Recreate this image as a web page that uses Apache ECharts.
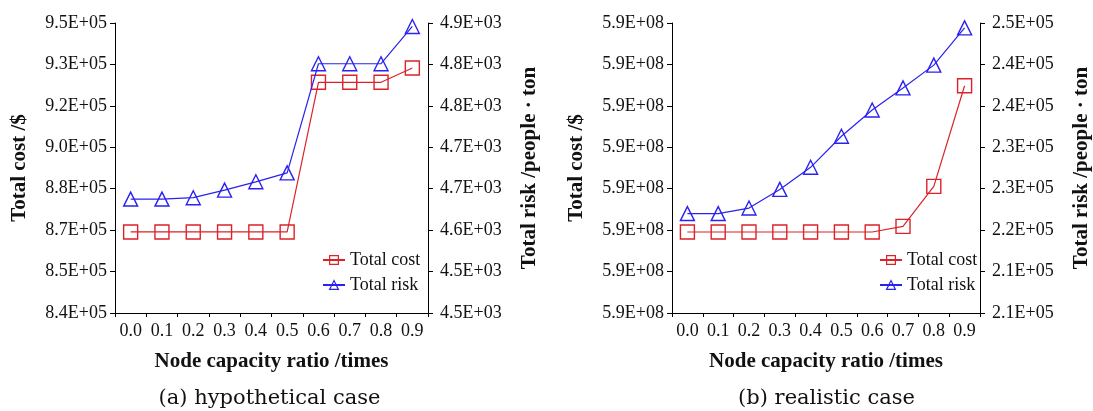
<!DOCTYPE html>
<html>
<head>
<meta charset="utf-8">
<script src="https://cdn.jsdelivr.net/npm/echarts@6/dist/echarts.min.js"></script>
<style>
html,body{margin:0;padding:0;background:#fff;}
#c{width:1093px;height:411px;}
</style>
</head>
<body>
<div id="c"></div>
<script>
// ---- data ----
var ratios = ['0.0','0.1','0.2','0.3','0.4','0.5','0.6','0.7','0.8','0.9'];

var costA = [867300, 867300, 867300, 867300, 867300, 867300, 925100, 925100, 925100, 930600];
var riskA = [4645, 4645, 4647, 4658, 4670, 4683, 4841, 4841, 4841, 4895];

var costB = [589895500, 589895500, 589895500, 589895500, 589895500, 589895500, 589895500, 589909000, 590005600, 590248600];
var riskB = [222400, 222400, 223200, 225900, 229100, 233600, 237400, 240600, 243900, 249300];

var costTicksA = ['8.4E+05','8.5E+05','8.7E+05','8.8E+05','9.0E+05','9.2E+05','9.3E+05','9.5E+05'];
var riskTicksA = ['4.5E+03','4.5E+03','4.6E+03','4.7E+03','4.7E+03','4.8E+03','4.8E+03','4.9E+03'];
var costTicksB = ['5.9E+08','5.9E+08','5.9E+08','5.9E+08','5.9E+08','5.9E+08','5.9E+08','5.9E+08'];
var riskTicksB = ['2.1E+05','2.1E+05','2.2E+05','2.3E+05','2.3E+05','2.4E+05','2.4E+05','2.5E+05'];

var costScaleA = {min: 836000, interval: 16000};
var riskScaleA = {min: 4480, interval: 60};
var costScaleB = {min: 589700000, interval: 100000};
var riskScaleB = {min: 208000, interval: 6000};

var seriesNames = ['Total cost', 'Total risk'];
var subtitles = ['(a) hypothetical case', '(b) realistic case'];
var xTitle = 'Node capacity ratio /times';
var yTitleLeft = 'Total cost /$';
var yTitleRight = 'Total risk /people \u00b7 ton';

// ---- styles ----
var RED = '#dc2229';
var BLUE = '#2a22f0';
var FONT = 'Liberation Serif';
var grids = [
  {left: 115, width: 313, top: 23, height: 290},
  {left: 672, width: 313, top: 23, height: 290}
];

function yAxis(gridIndex, scale, ticks, pos, name) {
  return {
    type: 'value',
    gridIndex: gridIndex,
    position: pos,
    min: scale.min,
    max: scale.min + scale.interval * (ticks.length - 1),
    interval: scale.interval,
    splitLine: {show: false},
    axisLine: {show: true, lineStyle: {color: '#000', width: 1}},
    axisTick: {show: true, inside: false, length: 5, lineStyle: {color: '#000'}},
    axisLabel: {
      fontFamily: FONT, fontSize: 18, color: '#111',
      margin: pos === 'left' ? 8 : 12,
      formatter: function (v) {
        return ticks[Math.round((v - scale.min) / scale.interval)];
      }
    },
    name: name,
    nameLocation: 'middle',
    nameRotate: 90,
    nameGap: pos === 'left' ? 85 : 91,
    nameTextStyle: {fontFamily: FONT, fontSize: 21, fontWeight: 'bold', color: '#111'}
  };
}

function xAxis(gridIndex) {
  return {
    type: 'category',
    gridIndex: gridIndex,
    data: ratios,
    boundaryGap: true,
    axisLine: {show: true, lineStyle: {color: '#000', width: 1}},
    axisTick: {show: true, inside: false, length: 4, interval: 0, lineStyle: {color: '#000'}},
    axisLabel: {fontFamily: FONT, fontSize: 18, color: '#111', margin: 9, interval: 0},
    name: xTitle,
    nameLocation: 'middle',
    nameGap: 38,
    nameTextStyle: {fontFamily: FONT, fontSize: 21, fontWeight: 'bold', color: '#111'}
  };
}

function line(name, color, symbol, xi, yi, data) {
  return {
    name: name,
    type: 'line',
    xAxisIndex: xi,
    yAxisIndex: yi,
    data: data,
    symbol: symbol,
    symbolSize: 14,
    color: color,
    lineStyle: {color: color, width: 1.2},
    itemStyle: {color: 'rgba(255,255,255,0)', borderColor: color, borderWidth: 1.4},
    emphasis: {disabled: true},
    animation: false,
    z: symbol === 'triangle' ? 3 : 2
  };
}

function legend(left) {
  return {
    orient: 'vertical',
    left: left,
    top: 246,
    itemWidth: 22,
    itemHeight: 11,
    itemGap: 7,
    textStyle: {fontFamily: FONT, fontSize: 18, color: '#111'},
    data: [
      {name: seriesNames[0], itemStyle: {color: 'rgba(255,255,255,0)', borderColor: RED, borderWidth: 1.2}},
      {name: seriesNames[1], itemStyle: {color: 'rgba(255,255,255,0)', borderColor: BLUE, borderWidth: 1.2}}
    ],
    selectedMode: false
  };
}

var chart = echarts.init(document.getElementById('c'), null, {renderer: 'canvas'});

var option = {
  backgroundColor: '#fff',
  animation: false,
  grid: grids,
  xAxis: [xAxis(0), xAxis(1)],
  yAxis: [
    yAxis(0, costScaleA, costTicksA, 'left', yTitleLeft),
    yAxis(0, riskScaleA, riskTicksA, 'right', yTitleRight),
    yAxis(1, costScaleB, costTicksB, 'left', yTitleLeft),
    yAxis(1, riskScaleB, riskTicksB, 'right', yTitleRight)
  ],
  legend: [legend(317), legend(874)],
  series: [
    line(seriesNames[0], RED, 'rect', 0, 0, costA),
    line(seriesNames[1], BLUE, 'triangle', 0, 1, riskA),
    line(seriesNames[0], RED, 'rect', 1, 2, costB),
    line(seriesNames[1], BLUE, 'triangle', 1, 3, riskB)
  ]
};

// subtitles positioned under each grid
option.graphic = subtitles.map(function (t, i) {
  var g = grids[i];
  return {
    type: 'text',
    x: g.left + g.width / 2 - 2,
    y: 399,
    style: {
      text: t,
      fontFamily: 'DejaVu Serif',
      fontSize: 21,
      fill: '#111',
      textAlign: 'center',
      textVerticalAlign: 'middle'
    }
  };
});

chart.setOption(option);
</script>
</body>
</html>
